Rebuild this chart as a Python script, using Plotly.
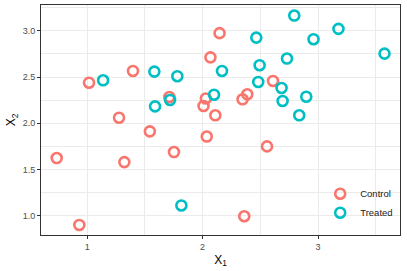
import plotly.graph_objects as go

control_x1 = [0.736, 0.932, 1.016, 1.276, 1.322, 1.397, 1.543, 1.712, 1.752, 2.028,
              2.008, 2.036, 2.068, 2.110, 2.147, 2.346, 2.387, 2.361, 2.558, 2.610]
control_x2 = [1.623, 0.899, 2.439, 2.060, 1.579, 2.566, 1.912, 2.284, 1.688, 2.268,
              2.187, 1.856, 2.713, 2.086, 2.975, 2.259, 2.313, 0.993, 1.749, 2.458]
treated_x1 = [1.138, 1.582, 1.781, 1.718, 1.588, 1.816, 2.099, 2.168, 2.465, 2.494,
              2.482, 2.731, 2.684, 2.693, 2.794, 2.837, 2.898, 2.961, 3.177, 3.576]
treated_x2 = [2.465, 2.559, 2.509, 2.252, 2.183, 1.110, 2.309, 2.566, 2.927, 2.628,
              2.447, 2.700, 2.382, 2.241, 3.166, 2.086, 2.287, 2.910, 3.022, 2.754]

series_names = ["Control", "Treated"]
series_colors = ["#F8766D", "#00BFC4"]

fig = go.Figure()
for name, xs, ys, col in zip(series_names, [control_x1, treated_x1], [control_x2, treated_x2], series_colors):
    fig.add_trace(go.Scatter(
        x=xs, y=ys, mode="markers", name=name,
        marker=dict(symbol="circle-open", size=10, color=col, line=dict(width=2.6, color=col)),
    ))

axis_common = dict(
    showline=True, mirror=True, linecolor="#333333", linewidth=1,
    ticks="outside", ticklen=3, tickcolor="#333333", tickwidth=1,
    showgrid=True, gridcolor="#EBEBEB", gridwidth=1, zeroline=False,
    automargin=False,
    tickfont=dict(family="Liberation Sans, Arial, sans-serif", size=9, color="#4D4D4D"),
)

fig.update_layout(
    width=407, height=271,
    margin=dict(l=41, r=7, t=5, b=36, autoexpand=False),
    plot_bgcolor="white", paper_bgcolor="white",
    font=dict(family="Liberation Sans, Arial, sans-serif", color="black"),
    xaxis=dict(range=[0.6, 3.71], tickvals=[1, 2, 3], ticktext=["1", "2", "3"],
               minor=dict(dtick=0.5, tick0=0.5, showgrid=True, gridcolor="#EBEBEB", gridwidth=0.5),
               title=dict(text="X<sub>1</sub>", font=dict(size=12), standoff=4),
               **axis_common),
    yaxis=dict(range=[0.79, 3.28], tickvals=[1.0, 1.5, 2.0, 2.5, 3.0],
               ticktext=["1.0", "1.5", "2.0", "2.5", "3.0"],
               minor=dict(dtick=0.25, tick0=0.75, showgrid=True, gridcolor="#EBEBEB", gridwidth=0.5),
               title=dict(text="X<sub>2</sub>", font=dict(size=12), standoff=4),
               **axis_common),
    showlegend=True,
    legend=dict(x=0.995, y=0.034, xanchor="right", yanchor="bottom",
                bgcolor="rgba(255,255,255,0)", font=dict(size=9.5, color="#1A1A1A"),
                tracegroupgap=0, itemwidth=30),
)

fig.write_html("out.html", config={"displayModeBar": False},
               post_script="document.body.style.margin='0';document.body.style.padding='0';")
